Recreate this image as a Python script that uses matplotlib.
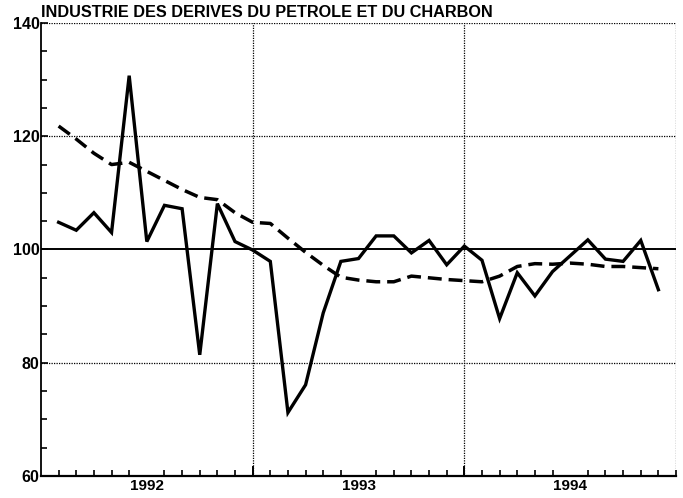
import numpy as np
import matplotlib
matplotlib.use("Agg")
import matplotlib.pyplot as plt
from matplotlib.ticker import MultipleLocator, FixedLocator

# mois 1..35 a partir du debut de 1992
mois = np.arange(1, 36)
indice = [104.8, 103.4, 106.5, 103.0, 130.7, 101.4, 107.8, 107.2, 81.4, 108.1,
          101.4, 99.9, 97.9, 71.2, 76.1, 88.8, 97.9, 98.4, 102.4, 102.4,
          99.4, 101.6, 97.3, 100.6, 98.1, 87.8, 95.9, 91.8, 96.1, 98.9,
          101.7, 98.3, 97.9, 101.6, 92.9]
tendance = [121.8, 119.5, 117.0, 115.0, 115.4, 113.8, 112.2, 110.6, 109.2, 108.8,
            106.5, 104.8, 104.6, 102.0, 99.5, 97.2, 95.1, 94.6, 94.3, 94.3,
            95.3, 95.0, 94.7, 94.5, 94.3, 95.3, 97.0, 97.5, 97.4, 97.6,
            97.4, 97.0, 97.0, 96.8, 96.6]
annees = ["1992", "1993", "1994"]
titre = "INDUSTRIE DES DERIVES DU PETROLE ET DU CHARBON"

plt.rcParams['font.family'] = ['Liberation Sans', 'DejaVu Sans']

fig = plt.figure(figsize=(6.83, 4.98), dpi=100)
ax = fig.add_axes([0.060, 0.0442, 0.9298, 0.9096])

ax.set_xlim(0, 36)
ax.set_ylim(60, 140)

# grille
for y in [80, 120, 140]:
    ax.axhline(y, color='black', lw=0.9, ls=(0, (1, 1)), zorder=1)
ax.axhline(100, color='black', lw=1.4, zorder=1)
for x in [12, 24, 36]:
    ax.axvline(x, color='black', lw=0.9, ls=(0, (1, 1)), zorder=1)

ax.plot(mois, indice, color='black', lw=2.4, solid_joinstyle='miter', zorder=3)
ax.plot(mois, tendance, color='black', lw=2.5, ls=(0, (4, 2)), zorder=3)

ax.spines['top'].set_visible(False)
ax.spines['right'].set_visible(False)
ax.spines['left'].set_linewidth(1.3)
ax.spines['bottom'].set_linewidth(1.6)

ax.yaxis.set_major_locator(MultipleLocator(20))
ax.yaxis.set_minor_locator(MultipleLocator(5))
ax.tick_params(axis='y', which='major', direction='in', length=5, width=1.2,
               labelsize=11.5, pad=1)
ax.tick_params(axis='y', which='minor', direction='in', length=4, width=1.2)

ax.xaxis.set_major_locator(FixedLocator([6, 18, 30]))
ax.set_xticklabels(annees)
ax.xaxis.set_minor_locator(FixedLocator(list(mois) + [36]))
ax.tick_params(axis='x', which='major', length=0, labelsize=11, pad=2)
ax.tick_params(axis='x', which='minor', direction='in', length=4.5, width=1.2)
for x in [12, 24]:
    ax.plot([x, x], [60, 61.6], color='black', lw=1.4, zorder=2)
for lab in ax.get_yticklabels() + ax.get_xticklabels():
    lab.set_fontweight('bold')

fig.text(0.060, 0.966, titre, fontsize=11.7, fontweight='bold', ha='left',
         va='baseline')

fig.savefig("out.png", dpi=100)
